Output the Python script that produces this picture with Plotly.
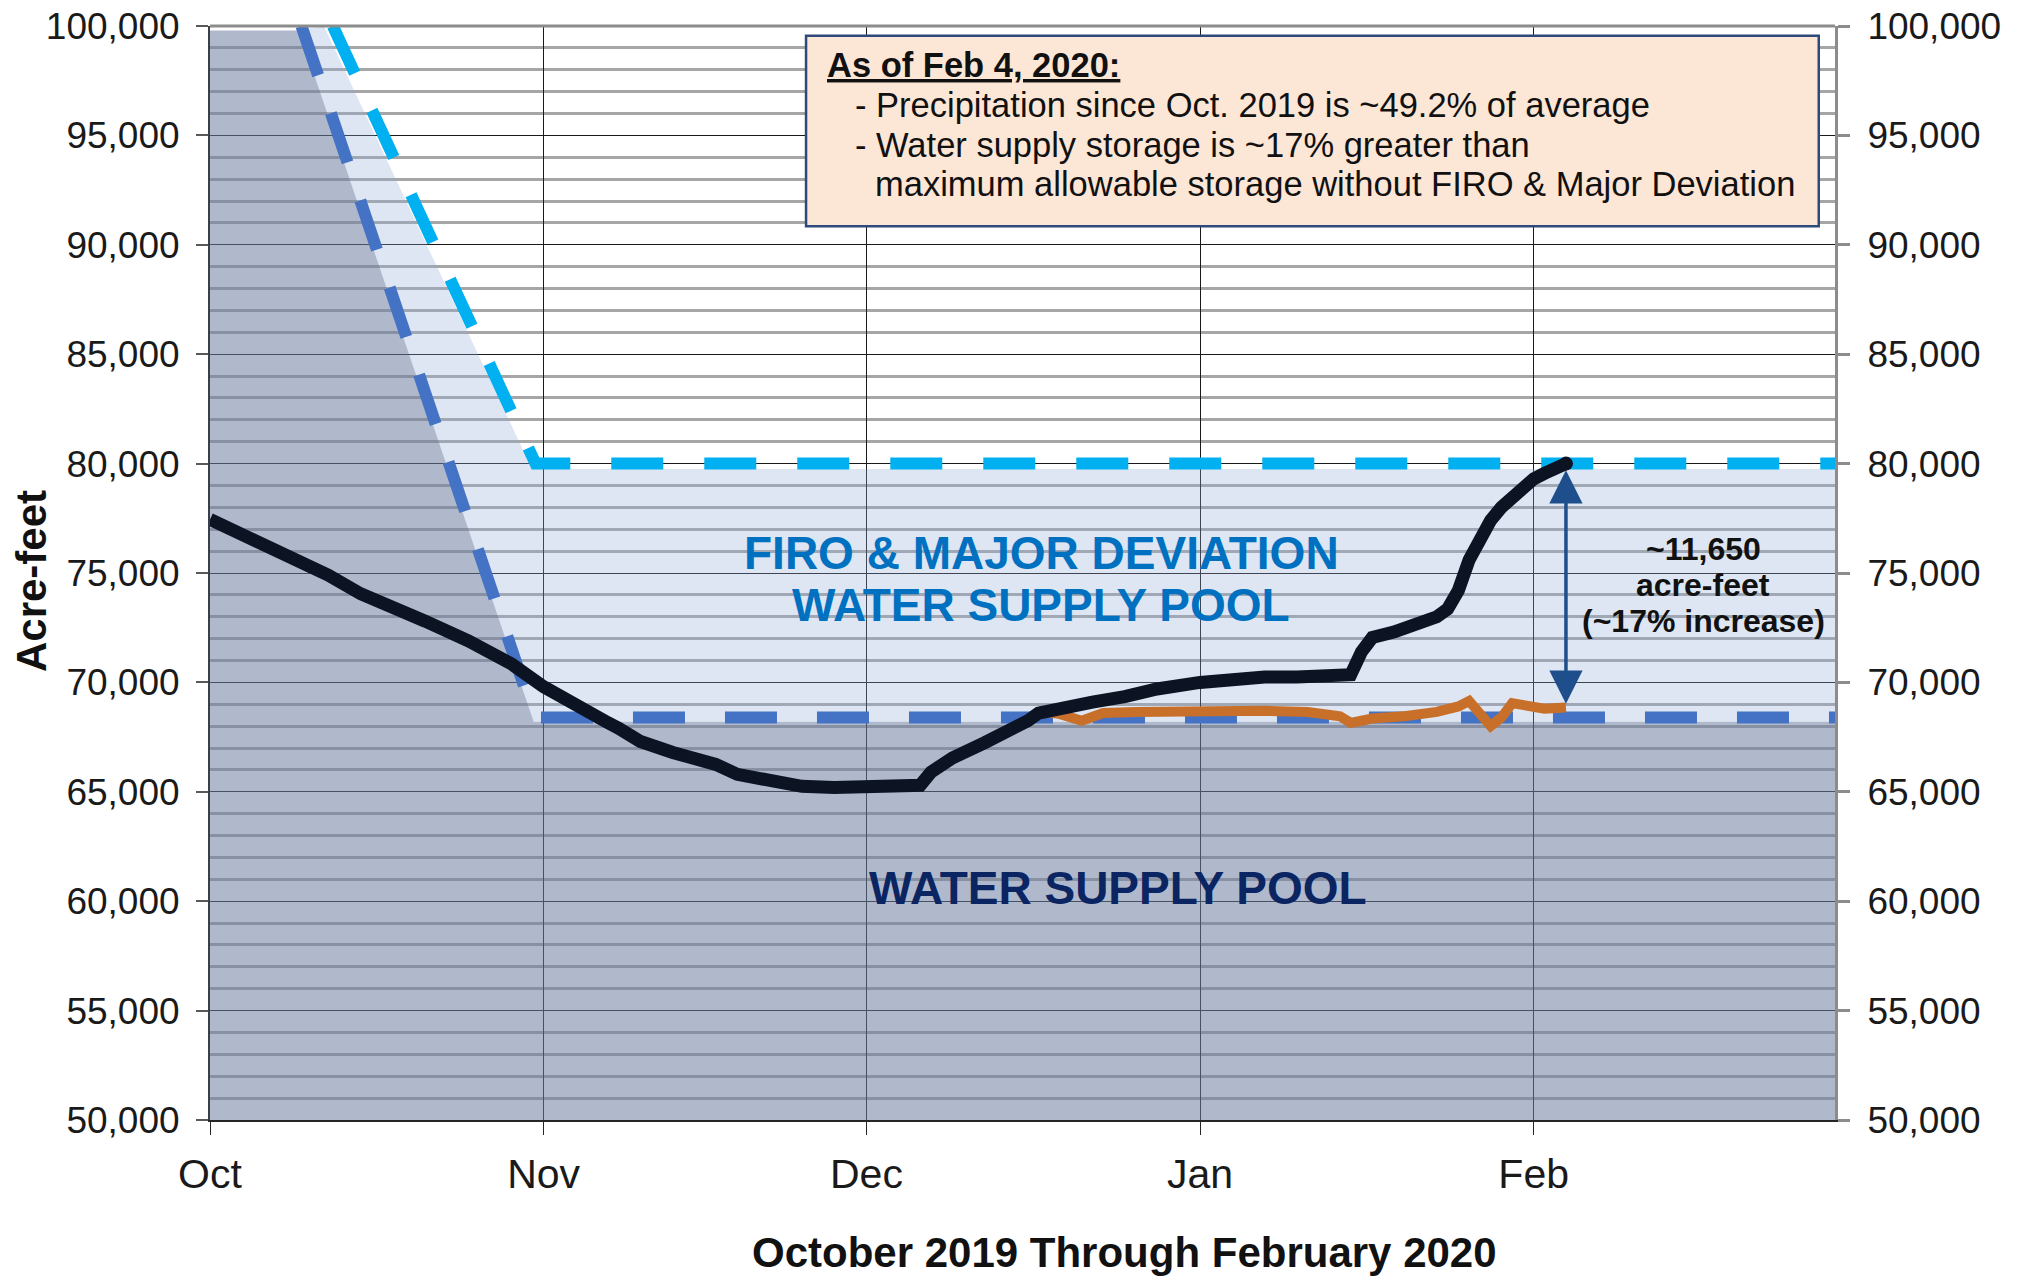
import plotly.graph_objects as go

# ---------------- data ----------------
storage_dates = [
    "2019-10-01", "2019-10-05", "2019-10-09", "2019-10-12", "2019-10-15", "2019-10-18",
    "2019-10-21", "2019-10-25", "2019-10-29", "2019-11-01", "2019-11-04", "2019-11-07",
    "2019-11-08", "2019-11-10", "2019-11-13", "2019-11-15", "2019-11-17", "2019-11-19",
    "2019-11-22", "2019-11-25", "2019-11-28", "2019-12-01", "2019-12-04", "2019-12-06",
    "2019-12-07", "2019-12-09", "2019-12-12", "2019-12-14", "2019-12-16", "2019-12-17",
    "2019-12-19", "2019-12-22", "2019-12-25", "2019-12-28", "2020-01-01", "2020-01-04",
    "2020-01-07", "2020-01-10", "2020-01-13", "2020-01-15", "2020-01-16", "2020-01-17",
    "2020-01-19", "2020-01-21", "2020-01-23", "2020-01-24", "2020-01-25", "2020-01-26",
    "2020-01-27", "2020-01-28", "2020-01-29", "2020-01-30", "2020-01-31", "2020-02-01",
    "2020-02-02", "2020-02-03", "2020-02-04",
]
storage_values = [
    77450, 76550, 75700, 74900, 74050, 73500,
    72800, 71900, 70850, 69800, 68900, 68150,
    67900, 67300, 66800, 66600, 66250, 65800,
    65450, 65250, 65200, 65200, 65200, 65300,
    65900, 66550, 67250, 67700, 68250, 68600,
    68850, 69100, 69350, 69700, 70000, 70150,
    70250, 70250, 70250, 70350, 71400, 72050,
    72300, 72600, 73000, 73350, 74200, 75600,
    76600, 77400, 78000, 78500, 79000, 79300,
    79550, 79800, 80000,
]

without_firo_dates = [
    "2019-12-17", "2019-12-19", "2019-12-21", "2019-12-23", "2019-12-26", "2019-12-30",
    "2020-01-03", "2020-01-07", "2020-01-11", "2020-01-14", "2020-01-15", "2020-01-17",
    "2020-01-20", "2020-01-23", "2020-01-25", "2020-01-26", "2020-01-28", "2020-01-29",
    "2020-01-30", "2020-01-31", "2020-02-02", "2020-02-04",
]
without_firo_values = [
    68700, 68550, 68250, 68600, 68650, 68700,
    68750, 68700, 68650, 68450, 68150, 68350,
    68450, 68650, 68900, 69150, 68000, 68400,
    69050, 68950, 68800, 68850,
]

# water supply pool (dark area) upper boundary
pool_dates = ["2019-10-01", "2019-10-09 07:00", "2019-10-31 02:00", "2020-02-29"]
pool_top = [99800, 99800, 68200, 68200]

# FIRO & major deviation pool (light area) upper boundary
firo_dates = ["2019-10-09 07:00", "2019-10-11 14:00", "2019-10-30 22:00", "2020-02-29"]
firo_top = [99800, 100000, 79750, 79750]

# allowable storage rule curves (dashed)
base_rule_dates = ["2019-10-09 12:00", "2019-10-31 04:00", "2020-02-29"]
base_rule_values = [100000, 68400, 68400]
firo_rule_dates = ["2019-10-12 10:00", "2019-10-31 06:00", "2020-02-29"]
firo_rule_values = [100000, 80000, 80000]

arrow_bottom = 68950
arrow_top = 79700

month_ticks = ["2019-10-01", "2019-11-01", "2019-12-01", "2020-01-01", "2020-02-01"]
month_labels = ["Oct", "Nov", "Dec", "Jan", "Feb"]
x_range = ["2019-10-01", "2020-02-29"]
y_range = [50000, 100000]

FONT = "Liberation Sans, Arial, sans-serif"

fig = go.Figure()

fig.add_trace(go.Scatter(
    x=pool_dates, y=pool_top, mode="lines", line=dict(width=0),
    fill="tozeroy", fillcolor="rgba(111,128,162,0.55)", hoverinfo="skip", showlegend=False))
fig.add_trace(go.Scatter(
    x=firo_dates, y=firo_top, mode="lines", line=dict(width=0),
    fill="tonexty", fillcolor="rgba(142,172,212,0.30)", hoverinfo="skip", showlegend=False))

fig.add_trace(go.Scatter(
    x=base_rule_dates, y=base_rule_values, mode="lines",
    line=dict(color="#4472c4", width=12, dash="52px,40px"), showlegend=False))
fig.add_trace(go.Scatter(
    x=firo_rule_dates, y=firo_rule_values, mode="lines",
    line=dict(color="#00b0f0", width=12, dash="52px,41px"), showlegend=False))

fig.add_trace(go.Scatter(
    x=without_firo_dates, y=without_firo_values, mode="lines",
    line=dict(color="#c8702a", width=10), showlegend=False))
fig.add_trace(go.Scatter(
    x=storage_dates, y=storage_values, mode="lines",
    line=dict(color="#0c1424", width=13), showlegend=False))
fig.add_trace(go.Scatter(
    x=[storage_dates[-1]], y=[storage_values[-1]], mode="markers",
    marker=dict(color="#0c1424", size=14), showlegend=False, hoverinfo="skip"))

# invisible trace for the right axis
fig.add_trace(go.Scatter(
    x=[storage_dates[0]], y=[storage_values[0]], yaxis="y2", mode="markers",
    marker=dict(opacity=0), showlegend=False, hoverinfo="skip"))

ytickfont = dict(family=FONT, size=37, color="#1a1a1a")
xtickfont = dict(family=FONT, size=41, color="#1a1a1a")

fig.update_layout(
    width=2026, height=1277,
    margin=dict(l=210, r=191, t=26, b=157, autoexpand=False),
    paper_bgcolor="white", plot_bgcolor="white",
    showlegend=False,
    xaxis=dict(
        type="date", range=x_range,
        tickvals=month_ticks, ticktext=month_labels,
        tickfont=xtickfont, ticks="outside", ticklen=13, tickcolor="#262626", tickwidth=1,
        ticklabelstandoff=4,
        showline=True, linecolor="#262626", linewidth=2,
        showgrid=True, gridcolor="#1a1a1a", gridwidth=1,
        zeroline=False,
    ),
    yaxis=dict(
        range=y_range, dtick=5000, tickformat=",",
        tickfont=ytickfont, ticks="outside", ticklen=12, tickcolor="#595959", tickwidth=1.5,
        ticklabelstandoff=9, ticklabeloverflow="allow",
        showline=True, linecolor="#3a3f4a", linewidth=2,
        showgrid=True, gridcolor="#1a1a1a", gridwidth=1,
        minor=dict(dtick=1000, showgrid=True, gridcolor="#a6a6a6", gridwidth=2.5),
        zeroline=False,
    ),
    yaxis2=dict(
        range=y_range, dtick=5000, tickformat=",", overlaying="y", side="right",
        tickfont=ytickfont, ticks="outside", ticklen=12, tickcolor="#8c8c8c", tickwidth=3,
        ticklabelstandoff=10, ticklabeloverflow="allow",
        showline=True, linecolor="#8c8c8c", linewidth=3, showgrid=False, zeroline=False,
    ),
)

# axis titles
fig.add_annotation(text="<b>October 2019 Through February 2020</b>", xref="paper", yref="paper",
                   x=0.563, y=-0.1207, xanchor="center", yanchor="middle", showarrow=False,
                   font=dict(family=FONT, size=42, color="#111"))
fig.add_annotation(text="<b>Acre-feet</b>", xref="paper", yref="paper", textangle=-90,
                   x=-0.1095, y=0.4927, xanchor="center", yanchor="middle", showarrow=False,
                   font=dict(family=FONT, size=42, color="#111"))

# top border
fig.add_shape(type="line", xref="paper", yref="paper", x0=0, x1=1, y0=1, y1=1,
              line=dict(color="#8c8c8c", width=3), layer="above")

# info box
fig.add_shape(type="rect", xref="paper", yref="paper", x0=0.3668, x1=0.990, y0=0.817, y1=0.991,
              line=dict(color="#2e4a7a", width=2.5), fillcolor="#fce6d6", layer="above")

box_font = dict(family=FONT, size=34.5, color="#111")
box_lines = [
    ("<b><u>As of Feb 4, 2020:</u></b>", 0.3785, 0.9647),
    ("- Precipitation since Oct. 2019 is ~49.2% of average", 0.3957, 0.928),
    ("- Water supply storage is ~17% greater than", 0.3957, 0.8915),
    ("maximum allowable storage without FIRO &amp; Major Deviation", 0.408, 0.856),
]
for txt, xp, yp in box_lines:
    fig.add_annotation(text=txt, xref="paper", yref="paper", x=xp, y=yp,
                       xanchor="left", yanchor="middle", showarrow=False, font=box_font)

# pool labels
pool_font = dict(family=FONT, size=46, color="#0070c0")
fig.add_annotation(text="<b>FIRO &amp; MAJOR DEVIATION</b>", xref="paper", yref="paper",
                   x=0.5114, y=0.5183, xanchor="center", yanchor="middle", showarrow=False,
                   font=pool_font)
fig.add_annotation(text="<b>WATER SUPPLY POOL</b>", xref="paper", yref="paper",
                   x=0.5114, y=0.4707, xanchor="center", yanchor="middle", showarrow=False,
                   font=pool_font)
fig.add_annotation(text="<b>WATER SUPPLY POOL</b>", xref="paper", yref="paper",
                   x=0.5588, y=0.2121, xanchor="center", yanchor="middle", showarrow=False,
                   font=dict(family=FONT, size=46, color="#0b2462"))

# double-headed arrow
fig.add_annotation(x=storage_dates[-1], y=arrow_top, ax=storage_dates[-1], ay=arrow_bottom,
                   xref="x", yref="y", axref="x", ayref="y", text="",
                   showarrow=True, arrowhead=2, startarrowhead=2, arrowside="end+start",
                   arrowsize=1.9, startarrowsize=1.9, arrowwidth=3.5, arrowcolor="#1f4e8c")
arrow_font = dict(family=FONT, size=32, color="#111")
for txt, yp in [("<b>~11,650</b>", 0.5219), ("<b>acre-feet</b>", 0.489),
                ("<b>(~17% increase)</b>", 0.4557)]:
    fig.add_annotation(text=txt, xref="paper", yref="paper", x=0.9188, y=yp,
                       xanchor="center", yanchor="middle", showarrow=False, font=arrow_font)

# remove the default 8px body margin so the figure fills the window exactly
fig.write_html("out.html", config={"displayModeBar": False},
               post_script="document.body.style.margin='0px';")
